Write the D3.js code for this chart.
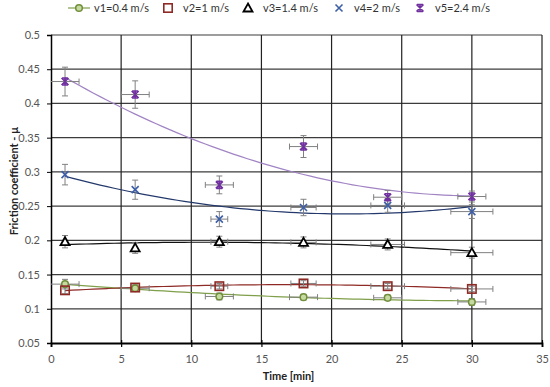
<!DOCTYPE html>
<html>
<head>
<meta charset="utf-8">
<script src="https://cdn.jsdelivr.net/npm/d3@7"></script>
<style>
  body { margin: 0; background: #fff; }
  svg { display: block; font-family: Lato, "Open Sans", sans-serif; }
</style>
</head>
<body>
<svg width="550" height="387"></svg>
<script>
var times = [1, 6, 12, 18, 24, 30]
var seriesNames = ["v1=0.4 m/s", "v2=1 m/s", "v3=1.4 m/s", "v4=2 m/s", "v5=2.4 m/s"]
var v1 = [0.136, 0.130, 0.118, 0.117, 0.116, 0.110]
var v2 = [0.127, 0.131, 0.133, 0.137, 0.133, 0.129]
var v3 = [0.198, 0.189, 0.198, 0.197, 0.194, 0.182]
var v4 = [0.296, 0.274, 0.231, 0.248, 0.251, 0.242]
var v5 = [0.432, 0.413, 0.281, 0.337, 0.263, 0.264]
// error bars: y in mu, x in minutes
var v1yErr = [0.007, 0.004, 0.005, 0.004, 0.004, 0.005]
var v2yErr = [0.005, 0.004, 0.004, 0.004, 0.004, 0.004]
var v3yErr = [0.009, 0.008, 0.008, 0.008, 0.008, 0.008]
var v4yErr = [0.015, 0.014, 0.011, 0.012, 0.010, 0.010]
var v5yErr = [0.021, 0.020, 0.013, 0.016, 0.010, 0.008]
var v1xErr = [1, 1, 1, 1, 1, 1]
var v2xErr = [0, 0, 0.6, 0.9, 1.2, 1.5]
var v3xErr = [0, 0, 0.6, 0.9, 1.2, 1.5]
var v4xErr = [0, 0, 0.6, 0.9, 1.2, 1.5]
var v5xErr = [1, 1, 1, 1, 1, 1]
var xTicks = [0, 5, 10, 15, 20, 25, 30, 35]
var yTicks = [0.05, 0.1, 0.15, 0.2, 0.25, 0.3, 0.35, 0.4, 0.45, 0.5]

var series = [
  {name: seriesNames[0], values: v1, yErr: v1yErr, xErr: v1xErr, color: "#6f8f3a", trend: "#7f9f4a", marker: "circle"},
  {name: seriesNames[1], values: v2, yErr: v2yErr, xErr: v2xErr, color: "#8e2a25", trend: "#8e2a25", marker: "square"},
  {name: seriesNames[2], values: v3, yErr: v3yErr, xErr: v3xErr, color: "#000000", trend: "#111111", marker: "triangle"},
  {name: seriesNames[3], values: v4, yErr: v4yErr, xErr: v4xErr, color: "#3d5fa8", trend: "#23386b", marker: "x"},
  {name: seriesNames[4], values: v5, yErr: v5yErr, xErr: v5xErr, color: "#7030a0", trend: "#a184c4", marker: "star"}
]

var margin = {top: 35, right: 8, bottom: 44, left: 51}
var width = 550, height = 387

var x = d3.scaleLinear().domain([0, 35]).range([margin.left, width - margin.right])
var y = d3.scaleLinear().domain([0.05, 0.5]).range([height - margin.bottom, margin.top])

var svg = d3.select("svg")

// gridlines
svg.append("g").selectAll("line").data(yTicks.slice(1)).join("line")
  .attr("x1", x(0)).attr("x2", x(35))
  .attr("y1", d => y(d)).attr("y2", d => y(d))
  .attr("stroke", "#3c3c3c").attr("stroke-width", 1.2)
svg.append("g").selectAll("line").data(xTicks.slice(1)).join("line")
  .attr("x1", d => x(d)).attr("x2", d => x(d))
  .attr("y1", y(0.05)).attr("y2", y(0.5))
  .attr("stroke", "#222").attr("stroke-width", 1.2)

// axes
var xAxis = d3.axisBottom(x).tickValues(xTicks).tickSize(4).tickFormat(d3.format("d"))
var yAxis = d3.axisLeft(y).tickValues(yTicks).tickSize(4).tickFormat(d => d3.format("")(+d.toFixed(2)))

svg.append("g")
  .attr("transform", `translate(0,${y(0.05)})`)
  .call(xAxis)
  .call(g => g.select(".domain").attr("stroke", "#000").attr("stroke-width", 1.8))
  .call(g => g.selectAll(".tick line").attr("stroke", "#000").attr("y1", -3).attr("stroke-width", 1.2))
  .call(g => g.selectAll(".tick text").attr("fill", "#555").attr("font-size", 11).attr("dy", "1.15em").attr("font-family", "Lato"))

svg.append("g")
  .attr("transform", `translate(${x(0)},0)`)
  .call(yAxis)
  .call(g => g.select(".domain").attr("stroke", "#000").attr("stroke-width", 1.5))
  .call(g => g.selectAll(".tick line").attr("stroke", "#000"))
  .call(g => g.selectAll(".tick text").attr("fill", "#555").attr("font-size", 11).attr("x", -11).attr("font-family", "Lato"))

// axis titles
svg.append("text")
  .attr("x", x(17.5) - 8).attr("y", 380)
  .attr("text-anchor", "middle").attr("font-weight", "bold").attr("font-size", 11).attr("fill", "#222")
  .text("Time [min]")
svg.append("text")
  .attr("transform", `translate(18,${181}) rotate(-90)`)
  .attr("text-anchor", "middle").attr("font-weight", "bold").attr("font-size", 11).attr("fill", "#222")
  .text("Friction coefficient - \u00b5")

// quadratic least squares trendline, like Excel's polynomial trendline
function quadFit(xs, ys) {
  var n = xs.length, sx = 0, sx2 = 0, sx3 = 0, sx4 = 0, sy = 0, sxy = 0, sx2y = 0
  for (var i = 0; i < n; i++) {
    var a = xs[i], b = ys[i]
    sx += a; sx2 += a * a; sx3 += a * a * a; sx4 += a * a * a * a
    sy += b; sxy += a * b; sx2y += a * a * b
  }
  var M = [[n, sx, sx2, sy], [sx, sx2, sx3, sxy], [sx2, sx3, sx4, sx2y]]
  for (var c = 0; c < 3; c++) {
    for (var r = c + 1; r < 3; r++) {
      var f = M[r][c] / M[c][c]
      for (var k = c; k < 4; k++) M[r][k] -= f * M[c][k]
    }
  }
  var coef = [0, 0, 0]
  for (var r2 = 2; r2 >= 0; r2--) {
    var s = M[r2][3]
    for (var k2 = r2 + 1; k2 < 3; k2++) s -= M[r2][k2] * coef[k2]
    coef[r2] = s / M[r2][r2]
  }
  return t => coef[0] + coef[1] * t + coef[2] * t * t
}

var line = d3.line().x(d => x(d[0])).y(d => y(d[1])).curve(d3.curveMonotoneX)
var tSamples = d3.range(times[0], times[times.length - 1] + 0.01, 0.5)

svg.append("g").selectAll("path").data(series).join("path")
  .attr("fill", "none")
  .attr("stroke", d => d.trend)
  .attr("stroke-width", 1.2)
  .attr("d", d => {
    var fn = quadFit(times, d.values)
    return line(tSamples.map(t => [t, fn(t)]))
  })

// error bars
var errG = svg.append("g").attr("stroke", "#808080").attr("stroke-width", 1)
series.forEach(s => {
  times.forEach((t, i) => {
    var cx = x(t), cy = y(s.values[i])
    var y0 = y(s.values[i] - s.yErr[i]), y1 = y(s.values[i] + s.yErr[i])
    errG.append("line").attr("x1", cx).attr("x2", cx).attr("y1", y0).attr("y2", y1)
    errG.append("line").attr("x1", cx - 3).attr("x2", cx + 3).attr("y1", y0).attr("y2", y0)
    errG.append("line").attr("x1", cx - 3).attr("x2", cx + 3).attr("y1", y1).attr("y2", y1)
    if (s.xErr[i] > 0) {
      var x0 = x(Math.max(0, t - s.xErr[i])), x1 = x(t + s.xErr[i])
      errG.append("line").attr("x1", x0).attr("x2", x1).attr("y1", cy).attr("y2", cy)
      if (t - s.xErr[i] > 0) errG.append("line").attr("x1", x0).attr("x2", x0).attr("y1", cy - 3).attr("y2", cy + 3)
      errG.append("line").attr("x1", x1).attr("x2", x1).attr("y1", cy - 3).attr("y2", cy + 3)
    }
  })
})

function drawMarker(g, type, color, cx, cy) {
  if (type === "circle") {
    g.append("circle").attr("cx", cx).attr("cy", cy).attr("r", 3.3)
      .attr("fill", "#c6d9a0").attr("stroke", color).attr("stroke-width", 1.5)
  } else if (type === "square") {
    g.append("rect").attr("x", cx - 4.2).attr("y", cy - 4.2).attr("width", 8.4).attr("height", 8.4)
      .attr("fill", "none").attr("stroke", color).attr("stroke-width", 1.6)
  } else if (type === "triangle") {
    g.append("path").attr("d", `M${cx},${cy - 4.5}L${cx + 4.5},${cy + 3.5}L${cx - 4.5},${cy + 3.5}Z`)
      .attr("fill", "#fff").attr("stroke", color).attr("stroke-width", 1.8)
  } else if (type === "x") {
    g.append("path").attr("d", `M${cx - 3.5},${cy - 3.5}L${cx + 3.5},${cy + 3.5}M${cx - 3.5},${cy + 3.5}L${cx + 3.5},${cy - 3.5}`)
      .attr("stroke", color).attr("stroke-width", 1.6)
  } else if (type === "star") {
    g.append("path").attr("d", `M${cx - 3.5},${cy - 3.5}L${cx + 3.5},${cy + 3.5}M${cx - 3.5},${cy + 3.5}L${cx + 3.5},${cy - 3.5}M${cx},${cy - 3.5}L${cx},${cy + 3.5}M${cx - 3},${cy - 3.5}L${cx + 3},${cy - 3.5}M${cx - 3},${cy + 3.5}L${cx + 3},${cy + 3.5}`)
      .attr("stroke", color).attr("stroke-width", 1.6)
  }
}

var markG = svg.append("g")
series.forEach(s => {
  times.forEach((t, i) => drawMarker(markG, s.marker, s.color, x(t), y(s.values[i])))
})

// legend
var legendX = [79, 168, 248, 339, 420]
var legG = svg.append("g")
series.forEach((s, i) => {
  var lx = legendX[i], ly = 8
  if (i === 0) {
    legG.append("line").attr("x1", lx - 11).attr("x2", lx + 11).attr("y1", ly).attr("y2", ly)
      .attr("stroke", s.trend).attr("stroke-width", 1.2)
  }
  drawMarker(legG, s.marker, s.color, lx, ly)
  legG.append("text").attr("x", lx + 15).attr("y", ly).attr("dy", "0.35em")
    .attr("font-size", 11).attr("fill", "#333").text(s.name)
})
</script>
</body>
</html>
